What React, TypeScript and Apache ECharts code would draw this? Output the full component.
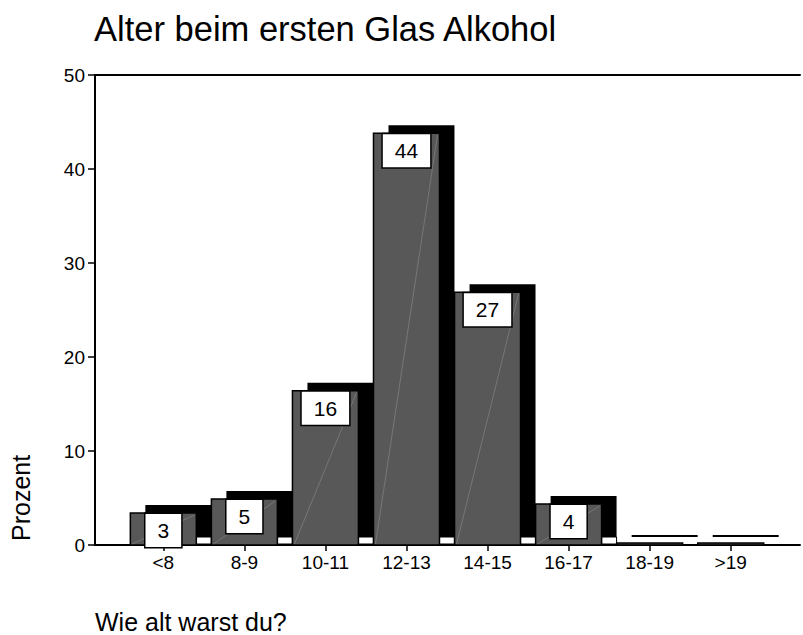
import React, { useEffect, useRef } from "react";
import * as echarts from "echarts";

const categories = ["<8", "8-9", "10-11", "12-13", "14-15", "16-17", "18-19", ">19"];
const percents = [3.4, 4.9, 16.4, 43.8, 26.9, 4.35, 0.2, 0.2];
const yMin = 0;
const yMax = 50;
const yInterval = 10;
const titleText = "Alter beim ersten Glas Alkohol";
const yName = "Prozent";
const xName = "Wie alt warst du?";

const FONT = "'Liberation Sans', Arial, Helvetica, sans-serif";

export default function App() {
  const ref = useRef<HTMLDivElement>(null);

  useEffect(() => {
    if (!ref.current) return;
    const chart = echarts.init(ref.current, null, { renderer: "svg" });
    const idx = categories.map((_, i) => i);
    const xMin = -0.843;
    const xMax = 7.855;
    const half = 0.407;
    const dx = 15;
    const dy = 8;

    chart.setOption({
      animation: false,
      backgroundColor: "#fff",
      textStyle: { fontFamily: FONT },
      title: [
        {
          text: titleText,
          left: 94,
          top: 11,
          padding: 0,
          textStyle: { fontSize: 34.5, fontWeight: "normal", color: "#000", fontFamily: FONT },
        },
        {
          text: xName,
          left: 95,
          top: 609,
          padding: 0,
          textStyle: { fontSize: 25, fontWeight: "normal", color: "#000", fontFamily: FONT },
        },
      ],
      graphic: [
        {
          type: "text",
          x: 21,
          y: 541,
          rotation: Math.PI / 2,
          style: {
            text: yName,
            fontSize: 25,
            fontFamily: FONT,
            fill: "#000",
            align: "left",
            verticalAlign: "middle",
          },
        },
      ],
      grid: { left: 95, right: 3, top: 75, bottom: 90 },
      xAxis: [
        {
          type: "value",
          min: xMin,
          max: xMax,
          axisLine: { show: true, lineStyle: { color: "#000", width: 2 } },
          axisTick: { show: true, customValues: idx, length: 6, inside: false, lineStyle: { color: "#000", width: 1.5 } },
          axisLabel: {
            show: true,
            customValues: idx,
            formatter: (v: number) => categories[Math.round(v)] ?? "",
            fontSize: 19,
            color: "#000",
            fontFamily: FONT,
            margin: 8,
          },
          splitLine: { show: false },
        },
        {
          type: "value",
          position: "top",
          min: xMin,
          max: xMax,
          axisLine: { show: true, onZero: false, lineStyle: { color: "#000", width: 2 } },
          axisTick: { show: false },
          axisLabel: { show: false },
          splitLine: { show: false },
        },
      ],
      yAxis: {
        type: "value",
        min: yMin,
        max: yMax,
        interval: yInterval,
        axisLine: { show: true, onZero: false, lineStyle: { color: "#000", width: 2 } },
        axisTick: { show: true, length: 7, inside: false, lineStyle: { color: "#000", width: 1.5 } },
        axisLabel: { fontSize: 19, color: "#000", fontFamily: FONT, margin: 10 },
        splitLine: { show: false },
      },
      series: [
        {
          type: "custom",
          xAxisIndex: 0,
          yAxisIndex: 0,
          data: percents.map((v, i) => [i, v]),
          encode: { x: 0, y: 1 },
          renderItem: (params: any, api: any) => {
            const i = api.value(0);
            const v = api.value(1);
            const [xl, yTop] = api.coord([i - half, v]);
            const [xr, yBase] = api.coord([i + half, 0]);
            const w = xr - xl;
            const h = yBase - yTop;
            const children: any[] = [];
            children.push({
              type: "rect",
              shape: { x: xl + dx, y: yTop - dy, width: w, height: h },
              style: { fill: "#000" },
            });
            if (v >= 1) {
              children.push({
                type: "rect",
                shape: { x: xr, y: yBase - dy, width: dx, height: dy - 1 },
                style: { fill: "#fff", stroke: "#000", lineWidth: 1 },
              });
            }
            children.push({
              type: "rect",
              shape: { x: xl, y: yTop, width: w, height: h },
              style: { fill: "#585858", stroke: "#000", lineWidth: 1.5 },
            });
            if (v >= 1) {
              children.push({
                type: "line",
                shape: { x1: xl + 2, y1: yBase - 1, x2: xr - 2, y2: yTop + 2 },
                style: { stroke: "#8c8c8c", lineWidth: 0.6 },
              });
              children.push({
                type: "text",
                style: {
                  text: String(Math.round(v)),
                  x: (xl + xr) / 2,
                  y: yTop + 1,
                  align: "center",
                  verticalAlign: "top",
                  fontSize: 21,
                  fontFamily: FONT,
                  fill: "#000",
                  backgroundColor: "#fff",
                  borderColor: "#000",
                  borderWidth: 1.5,
                  padding: [6, 12, 6, 12],
                },
              });
            }
            return { type: "group", children };
          },
        },
      ],
    });

    return () => chart.dispose();
  }, []);

  return (
    <div
      ref={ref}
      style={{ position: "fixed", left: 0, top: 0, width: 803, height: 635, background: "#fff" }}
    />
  );
}
